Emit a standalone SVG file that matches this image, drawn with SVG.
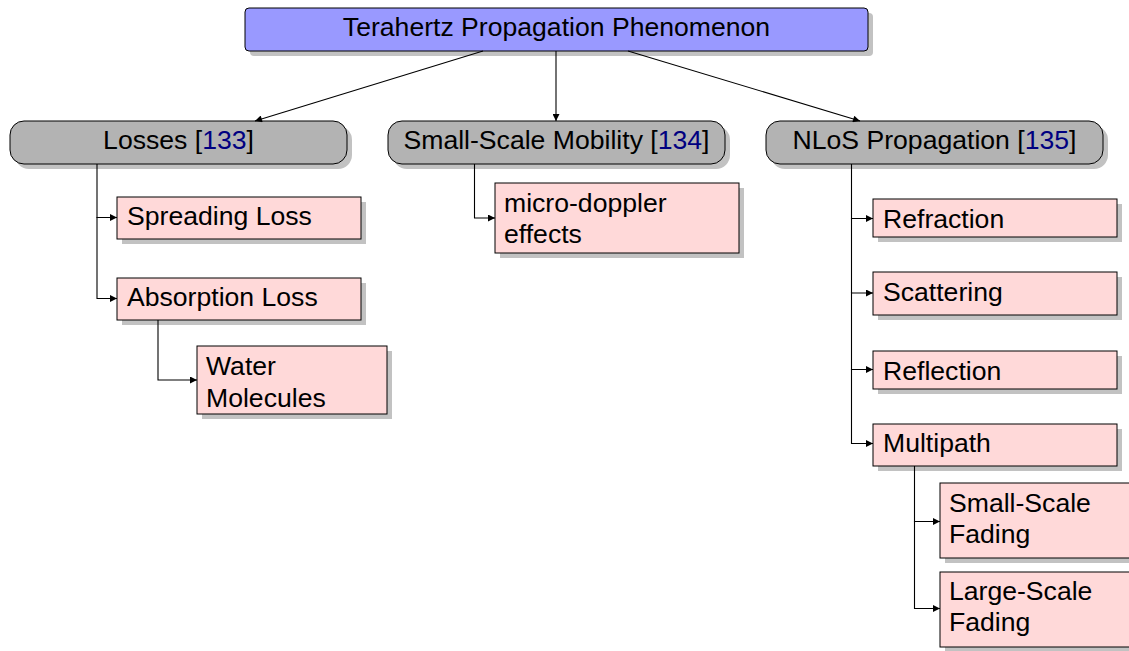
<svg xmlns="http://www.w3.org/2000/svg" width="1129" height="651" viewBox="0 0 1129 651">
<style>
  text { font-family: "Liberation Sans", Arial, sans-serif; font-size: 26.6px; fill: #000; }
  .c { text-anchor: middle; }
  .cite { fill: #000080; }
  .sh { fill: #c2c2c2; }
  .top { fill: #9999ff; stroke: #000; stroke-width: 1; }
  .cat { fill: #b3b3b3; stroke: #000; stroke-width: 1; }
  .leaf { fill: #ffd9d9; stroke: #000; stroke-width: 1; }
  .ln { fill: none; stroke: #000; stroke-width: 1.1; }
</style>
<defs>
  <marker id="ah" viewBox="0 0 10 10" refX="10" refY="5" markerWidth="9" markerHeight="7" markerUnits="userSpaceOnUse" orient="auto">
    <path d="M0,0 L10,5 L0,10 z" fill="#000"/>
  </marker>
</defs>
<rect width="1129" height="651" fill="#fff"/>

<g id="n-root">
  <rect class="sh" x="250" y="13" width="623" height="43" rx="4"/>
  <rect class="top" x="245" y="8" width="623" height="43" rx="4"/>
  <text class="c" x="556.5" y="36">Terahertz Propagation Phenomenon</text>
</g>

<g id="n-losses">
  <rect class="sh" x="15" y="126" width="337" height="43" rx="14"/>
  <rect class="cat" x="10" y="121" width="337" height="43" rx="14"/>
  <text class="c" x="178.5" y="149">Losses [<tspan class="cite">133</tspan>]</text>
</g>

<g id="n-mobility">
  <rect class="sh" x="393" y="126" width="337" height="43" rx="14"/>
  <rect class="cat" x="388" y="121" width="337" height="43" rx="14"/>
  <text class="c" x="556.5" y="148.5">Small-Scale Mobility [<tspan class="cite">134</tspan>]</text>
</g>

<g id="n-nlos">
  <rect class="sh" x="771" y="126" width="337" height="43" rx="14"/>
  <rect class="cat" x="766" y="121" width="337" height="43" rx="14"/>
  <text class="c" x="934.5" y="149">NLoS Propagation [<tspan class="cite">135</tspan>]</text>
</g>

<g id="n-spreading">
  <rect class="sh" x="122" y="202" width="244" height="42"/>
  <rect class="leaf" x="117" y="197" width="244" height="42"/>
  <text x="127" y="224.5">Spreading Loss</text>
</g>

<g id="n-absorption">
  <rect class="sh" x="122" y="283" width="244" height="42"/>
  <rect class="leaf" x="117" y="278" width="244" height="42"/>
  <text x="127" y="305.5">Absorption Loss</text>
</g>

<g id="n-water">
  <rect class="sh" x="202" y="351" width="190" height="68"/>
  <rect class="leaf" x="197" y="346" width="190" height="68"/>
  <text x="206" y="375">Water</text>
  <text x="206" y="406.5">Molecules</text>
</g>

<g id="n-doppler">
  <rect class="sh" x="500" y="188" width="244" height="70"/>
  <rect class="leaf" x="495" y="183" width="244" height="70"/>
  <text x="504" y="211.5">micro-doppler</text>
  <text x="504" y="243">effects</text>
</g>

<g id="n-refraction">
  <rect class="sh" x="878" y="204" width="244" height="38"/>
  <rect class="leaf" x="873" y="199" width="244" height="38"/>
  <text x="883" y="228">Refraction</text>
</g>

<g id="n-scattering">
  <rect class="sh" x="878" y="277" width="244" height="43"/>
  <rect class="leaf" x="873" y="272" width="244" height="43"/>
  <text x="883" y="300.5">Scattering</text>
</g>

<g id="n-reflection">
  <rect class="sh" x="878" y="356" width="244" height="38"/>
  <rect class="leaf" x="873" y="351" width="244" height="38"/>
  <text x="883" y="379.5">Reflection</text>
</g>

<g id="n-multipath">
  <rect class="sh" x="878" y="429" width="244" height="42"/>
  <rect class="leaf" x="873" y="424" width="244" height="42"/>
  <text x="883" y="451.5">Multipath</text>
</g>

<g id="n-smallfading">
  <rect class="sh" x="945" y="488" width="200" height="75"/>
  <rect class="leaf" x="940" y="483" width="200" height="75"/>
  <text x="949" y="511.5">Small-Scale</text>
  <text x="949" y="542.5">Fading</text>
</g>

<g id="n-largefading">
  <rect class="sh" x="945" y="577" width="200" height="75"/>
  <rect class="leaf" x="940" y="572" width="200" height="75"/>
  <text x="949" y="600">Large-Scale</text>
  <text x="949" y="631">Fading</text>
</g>

<g id="connectors">
  <line class="ln" x1="483" y1="51" x2="255" y2="121" marker-end="url(#ah)"/>
  <line class="ln" x1="556" y1="51" x2="556" y2="121" stroke-width="1.4" marker-end="url(#ah)"/>
  <line class="ln" x1="628" y1="51" x2="860" y2="121" marker-end="url(#ah)"/>

  <path class="ln" d="M97,164 V217.5 H117" marker-end="url(#ah)"/>
  <path class="ln" d="M97,217 V298.5 H117" marker-end="url(#ah)"/>
  <path class="ln" d="M158,320 V380 H197" marker-end="url(#ah)"/>

  <path class="ln" d="M474.5,164 V218 H495" marker-end="url(#ah)"/>

  <path class="ln" d="M851.5,164 V218.5 H873" stroke-width="1.4" marker-end="url(#ah)"/>
  <path class="ln" d="M851.5,218 V293 H873" stroke-width="1.4" marker-end="url(#ah)"/>
  <path class="ln" d="M851.5,292 V369.5 H873" marker-end="url(#ah)"/>
  <path class="ln" d="M851.5,369 V443.5 H873" marker-end="url(#ah)"/>

  <path class="ln" d="M914.5,466 V521.5 H940" marker-end="url(#ah)"/>
  <path class="ln" d="M914.5,521 V608.5 H940" marker-end="url(#ah)"/>
</g>
</svg>
